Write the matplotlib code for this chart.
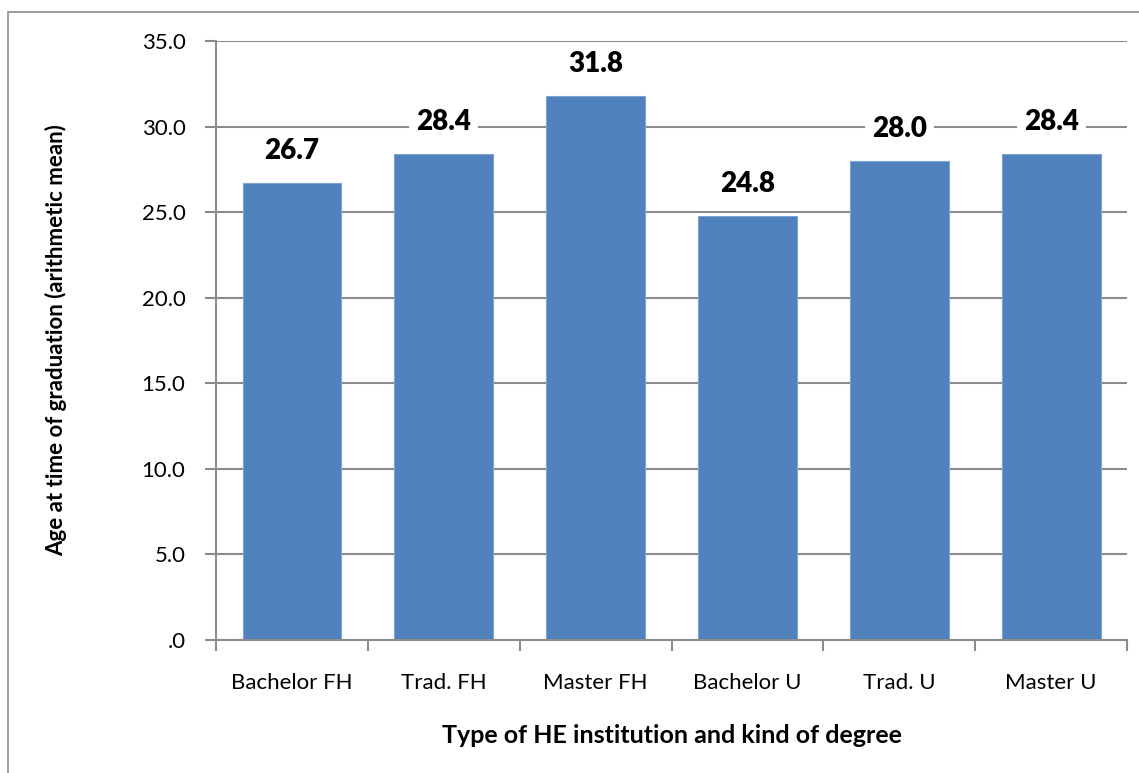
import matplotlib
matplotlib.use("Agg")
import matplotlib.pyplot as plt
from matplotlib.patches import Rectangle

categories = ["Bachelor FH", "Trad. FH", "Master FH", "Bachelor U", "Trad. U", "Master U"]
values = [26.7, 28.4, 31.8, 24.8, 28.0, 28.4]
yticks = [0, 5, 10, 15, 20, 25, 30, 35]
ytick_labels = [".0", "5.0", "10.0", "15.0", "20.0", "25.0", "30.0", "35.0"]

plt.rcParams["font.family"] = ["Lato", "DejaVu Sans"]

fig = plt.figure(figsize=(11.39, 7.73), dpi=100)
ax = fig.add_axes([0.1896, 0.1720, 0.8, 0.7750])

grid_col = "#8c8c8c"
bar_col = "#4f81bd"

x = range(len(categories))
ax.bar(x, values, width=0.65, color=bar_col, edgecolor="#7fa3d0", linewidth=0.8, zorder=2)

ax.set_xlim(-0.5, len(categories) - 0.5)
ax.set_ylim(0, 35)
ax.set_yticks(yticks)
ax.set_yticklabels(ytick_labels, fontsize=16)
ax.set_xticks(list(x))
ax.set_xticklabels(categories, fontsize=16)
ax.tick_params(axis="x", length=0, pad=24)
ax.tick_params(axis="y", length=8, color=grid_col, width=1.5, pad=14)

# x boundary ticks between categories
ax.set_xticks([i - 0.5 for i in range(len(categories) + 1)], minor=True)
ax.tick_params(axis="x", which="minor", length=8, color=grid_col, width=1.5)

ax.yaxis.grid(True, color=grid_col, linewidth=1.5, zorder=0)
ax.set_axisbelow(True)
for s in ["top", "right"]:
    ax.spines[s].set_visible(False)
for s in ["left", "bottom"]:
    ax.spines[s].set_color(grid_col)
    ax.spines[s].set_linewidth(1.5)

for xi, v in zip(x, values):
    ax.annotate(f"{v:.1f}", (xi, v), xytext=(0, 23), textcoords="offset points",
                ha="center", va="center", fontsize=20, fontweight="heavy",
                bbox=dict(boxstyle="square,pad=0.25", fc="white", ec="none"), zorder=3)

ax.set_ylabel("Age at time of graduation (arithmetic mean)", fontsize=16,
              fontweight="bold")
ax.yaxis.set_label_coords(-0.163, 0.5)
ax.set_xlabel("Type of HE institution and kind of degree", fontsize=18,
              fontweight="bold")
ax.xaxis.set_label_coords(0.5, -0.14)

# outer chart frame
fig.patches.append(Rectangle((8 / 1139, -0.1), 1.2, (773 - 12) / 773 + 0.1,
                             transform=fig.transFigure, fill=False,
                             edgecolor="#8c8c8c", linewidth=1.2))

fig.savefig("out.png", dpi=100)
